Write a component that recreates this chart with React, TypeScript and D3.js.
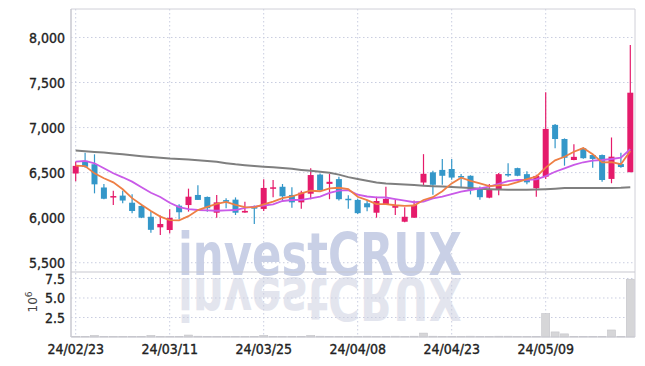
import React from "react";
import * as d3 from "d3";

const dates = [
  "24/02/23","24/02/26","24/02/27","24/02/28","24/02/29","24/03/04","24/03/05","24/03/06","24/03/07","24/03/08",
  "24/03/11","24/03/12","24/03/13","24/03/14","24/03/15","24/03/18","24/03/19","24/03/20","24/03/21","24/03/22",
  "24/03/25","24/03/26","24/03/27","24/03/28","24/03/29","24/04/01","24/04/02","24/04/03","24/04/04","24/04/05",
  "24/04/08","24/04/09","24/04/11","24/04/12","24/04/15","24/04/16","24/04/17","24/04/18","24/04/19","24/04/22",
  "24/04/23","24/04/24","24/04/25","24/04/26","24/04/29","24/04/30","24/05/02","24/05/03","24/05/07","24/05/08",
  "24/05/09","24/05/10","24/05/13","24/05/14","24/05/16","24/05/17","24/05/20","24/05/21","24/05/22","24/05/23",
];

const openP = [6490,6630,6593,6335,6225,6245,6166,6130,6010,5893,5863,6133,6140,6252,6230,6055,6195,6200,6057,6125,
  6097,6325,6343,6252,6170,6266,6478,6375,6428,6210,6197,6160,6055,6150,6110,5955,6000,6390,6503,6530,
  6540,6462,6465,6318,6222,6307,6485,6550,6483,6327,6455,7030,6873,6640,6770,6695,6695,6430,6595,6505];
const highP = [6620,6720,6703,6375,6300,6300,6260,6140,6072,6025,6093,6150,6322,6360,6235,6252,6215,6225,6177,6135,
  6426,6418,6374,6338,6300,6548,6490,6485,6455,6250,6210,6195,6232,6343,6195,6115,6190,6705,6520,6650,
  6650,6485,6470,6345,6373,6495,6605,6555,6515,6475,7392,7040,6880,6815,6780,6700,6700,6890,6720,7917];
const lowP = [6405,6555,6270,6205,6140,6160,6049,5995,5833,5807,5827,5982,6067,6195,6065,5998,6105,6030,6055,5930,
  6074,6226,6195,6110,6100,6204,6300,6205,6190,6100,6040,6070,6000,6140,6030,5950,5995,6355,6255,6365,
  6420,6340,6258,6200,6215,6250,6455,6460,6370,6233,6430,6770,6577,6637,6655,6555,6400,6382,6555,6505];
const closeP = [6575,6565,6370,6210,6240,6190,6074,6000,5865,5930,5998,6060,6233,6197,6105,6170,6177,6055,6075,6100,
  6330,6337,6237,6170,6278,6473,6307,6398,6205,6200,6050,6115,6185,6207,6135,6010,6140,6487,6365,6465,
  6445,6452,6312,6227,6318,6483,6475,6465,6392,6463,6985,6873,6665,6675,6660,6652,6418,6677,6562,7387];

const volumeM = [0.05,0.08,0.2,0.06,0.05,0.05,0.06,0.08,0.2,0.08,0.06,0.08,0.25,0.1,0.06,0.05,0.05,0.06,0.05,0.08,
  0.2,0.08,0.05,0.08,0.08,0.2,0.1,0.06,0.08,0.05,0.06,0.1,0.05,0.06,0.1,0.05,0.1,0.5,0.1,0.08,
  0.06,0.05,0.1,0.06,0.05,0.1,0.1,0.05,0.05,0.06,3.0,0.65,0.4,0.08,0.06,0.06,0.08,0.9,0.08,7.4];

const ma5 = [6578,6572,6492,6437,6392,6315,6217,6143,6074,6012,5973,5971,6017,6084,6119,6153,6176,6141,6116,6115,
  6147,6179,6216,6235,6270,6299,6293,6325,6332,6317,6232,6194,6151,6151,6138,6130,6135,6196,6227,6293,
  6380,6443,6408,6380,6351,6358,6363,6394,6427,6456,6556,6636,6676,6732,6772,6705,6614,6616,6594,6739];
const ma20 = [6621,6629,6604,6548,6493,6448,6400,6337,6277,6230,6165,6118,6095,6085,6080,6077,6080,6085,6108,6122,
  6135,6148,6185,6196,6198,6215,6233,6275,6300,6305,6255,6235,6226,6224,6207,6188,6171,6177,6213,6233,
  6262,6290,6307,6326,6344,6374,6405,6418,6420,6426,6462,6510,6548,6585,6615,6633,6640,6651,6666,6759];
const maLong = [6745,6738,6730,6722,6713,6703,6693,6683,6673,6665,6656,6650,6645,6638,6630,6620,6605,6592,6582,6573,
  6566,6560,6552,6542,6530,6520,6510,6498,6478,6450,6430,6410,6390,6380,6373,6368,6362,6355,6350,6346,
  6340,6335,6328,6320,6315,6312,6310,6310,6310,6312,6316,6322,6328,6330,6330,6330,6328,6330,6332,6338];

const priceTicks = [5500, 6000, 6500, 7000, 7500, 8000];
const volTicks = [2.5, 5.0, 7.5];
const dateTicks = ["24/02/23","24/03/11","24/03/25","24/04/08","24/04/23","24/05/09"];

const W = 645, H = 366;
const L = 71, R = 635, T = 9, SEP = 272, B = 337;
const UP = "#e51b6b", DOWN = "#3497c9";
const FONT = "'DejaVu Sans Condensed', 'DejaVu Sans', sans-serif";

export default function App() {
  const idx = d3.range(dates.length);
  const x = d3.scaleBand<number>().domain(idx).range([L, R]).padding(0);
  const cx = (i: number) => (x(i) as number) + x.bandwidth() / 2;
  const y = d3.scaleLinear().domain([5397, 8316]).range([SEP, T]);
  const yv = d3.scaleLinear().domain([0, 8.33]).range([B, SEP]);
  const bw = 6;
  const line = (arr: number[]) =>
    d3.line<number>().x((_, i) => cx(i)).y((v) => y(v))(arr) as string;
  const fmt = d3.format(",");
  const wmX = 178, wmW = 284, wmBase = 275;
  const lbl = { fontFamily: FONT, fontSize: 14, fill: "#222", stroke: "#222", strokeWidth: 0.35 };

  return (
    <svg width={W} height={H} style={{ position: "absolute", left: 0, top: 0, background: "#fff" }}>
      <defs>
        <clipPath id="main"><rect x={L} y={T} width={R - L} height={SEP - T} /></clipPath>
      </defs>
      <rect x={0} y={0} width={W} height={H} fill="#fff" />
      {/* watermark */}
      <text x={wmX} y={wmBase} textLength={wmW} lengthAdjust="spacingAndGlyphs"
        fontFamily={FONT} fontWeight="bold" fontSize={59} fill="#c9d0e6">investCRUX</text>
      <g transform={`translate(0,${2 * wmBase + 3}) scale(1,-1)`}>
        <text x={wmX} y={wmBase} textLength={wmW} lengthAdjust="spacingAndGlyphs"
          fontFamily={FONT} fontWeight="bold" fontSize={59} fill="#e3e5ee">investCRUX</text>
      </g>
      {/* grids */}
      {priceTicks.map((t) => (
        <line key={"pg" + t} x1={L} x2={R} y1={y(t)} y2={y(t)} stroke="#c9cde0" strokeDasharray="1.5,2.5" />
      ))}
      {volTicks.map((t) => (
        <line key={"vg" + t} x1={L} x2={R} y1={yv(t)} y2={yv(t)} stroke="#c9cde0" strokeDasharray="1.5,2.5" />
      ))}
      {dateTicks.map((d) => {
        const xi = cx(dates.indexOf(d));
        return <line key={"xg" + d} x1={xi} x2={xi} y1={T} y2={B} stroke="#c9cde0" strokeDasharray="1.5,2.5" />;
      })}
      {/* volume */}
      {volumeM.map((v, i) => (
        <rect key={"v" + i} x={cx(i) - 4} width={8} y={yv(v)} height={B - yv(v)}
          fill="#d6d6d8" stroke="#c4c4c8" strokeWidth={0.6} />
      ))}
      {/* candles */}
      <g clipPath="url(#main)">
        {idx.map((i) => {
          const up = closeP[i] >= openP[i];
          const c = up ? UP : DOWN;
          const top = y(Math.max(openP[i], closeP[i]));
          const bot = y(Math.min(openP[i], closeP[i]));
          return (
            <g key={"c" + i}>
              <line x1={cx(i)} x2={cx(i)} y1={y(highP[i])} y2={y(lowP[i])} stroke={c} strokeWidth={1.2} />
              <rect x={cx(i) - bw / 2} width={bw} y={top} height={Math.max(1.5, bot - top)} fill={c} />
            </g>
          );
        })}
        <path d={line(maLong)} fill="none" stroke="#7f7f7f" strokeWidth={2} />
        <path d={line(ma20)} fill="none" stroke="#c95ae8" strokeWidth={1.8} />
        <path d={line(ma5)} fill="none" stroke="#ee7f45" strokeWidth={1.8} />
      </g>
      {/* frame */}
      <line x1={L} x2={R} y1={T} y2={T} stroke="#d0d0d8" />
      <line x1={L} x2={L} y1={T} y2={B} stroke="#c8c8d0" strokeWidth={1.5} />
      <line x1={R} x2={R} y1={T} y2={B} stroke="#d0d0d8" />
      <line x1={L} x2={R} y1={SEP} y2={SEP} stroke="#c8c8d0" strokeWidth={1.2} />
      <line x1={L} x2={R} y1={B} y2={B} stroke="#c8c8d0" strokeWidth={1.2} />
      {/* axis labels */}
      {priceTicks.map((t) => (
        <text key={"pl" + t} x={65} y={y(t) + 5.5} textAnchor="end" {...lbl}>
          {fmt(t)}
        </text>
      ))}
      {volTicks.map((t) => (
        <text key={"vl" + t} x={65} y={yv(t) + 5.5} textAnchor="end" {...lbl}>
          {t.toFixed(1)}
        </text>
      ))}
      {dateTicks.map((d) => (
        <text key={"xl" + d} x={cx(dates.indexOf(d))} y={354} textAnchor="middle" {...lbl}>
          {d}
        </text>
      ))}
      <text transform="translate(37,302) rotate(-90)" textAnchor="middle" fontFamily="'DejaVu Sans', sans-serif" fontSize={12} fill="#444">
        10<tspan dy={-5} fontSize={9}>6</tspan>
      </text>
    </svg>
  );
}
